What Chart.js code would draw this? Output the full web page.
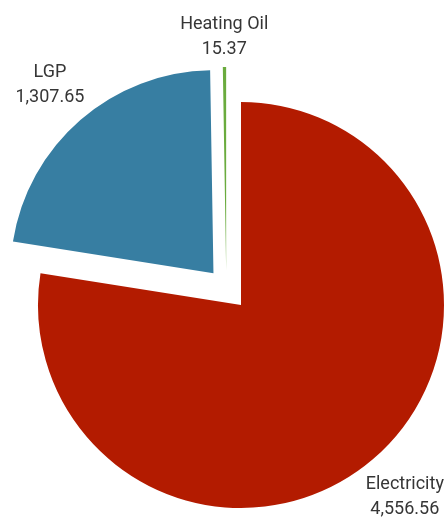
<!DOCTYPE html>
<html>
<head>
<meta charset="utf-8">
<script src="https://cdn.jsdelivr.net/npm/chart.js@4/dist/chart.umd.min.js"></script>
<style>
  html, body { margin: 0; padding: 0; background: #fff; }
  #wrap { width: 446px; height: 522px; position: relative; }
</style>
</head>
<body>
<div id="wrap"><canvas id="energyPie"></canvas></div>
<script>
// data
const categories = ['Electricity', 'LGP', 'Heating Oil'];
const values = [4556.56, 1307.65, 15.37];
const valueLabels = ['4,556.56', '1,307.65', '15.37'];
const colors = ['#b31b00', '#377ea2', '#6aab3e'];

// explode distance in px, and direction (deg from 12 o'clock, null = slice middle)
const explodePx = [0, 42, 38];
const explodeDir = [null, null, -23];

// the built-in offset shrinks thin slices to nothing, so translate the whole wedge instead
const ArcBase = Chart.ArcElement || Chart.elements.ArcElement;
class ExplodedArc extends ArcBase {
    static id = 'explodedArc';
    explodeVector() {
        const i = this.$idx || 0;
        const ang = explodeDir[i] === null
            ? (this.startAngle + this.endAngle) / 2
            : (explodeDir[i] - 90) * Math.PI / 180;
        return { dx: Math.cos(ang) * explodePx[i], dy: Math.sin(ang) * explodePx[i] };
    }
    draw(ctx) {
        const v = this.explodeVector();
        ctx.save();
        ctx.translate(v.dx, v.dy);
        super.draw(ctx);
        ctx.restore();
    }
}
Chart.register(ExplodedArc);
Chart.defaults.datasets.pie.dataElementType = 'explodedArc';

// name + value outside each slice, text box kept a few px off the rim
const outsideLabels = {
    id: 'outsideLabels',
    beforeDatasetsDraw(chart) {
        chart.getDatasetMeta(0).data.forEach((arc, i) => { arc.$idx = i; });
    },
    afterDatasetsDraw(chart) {
        const ctx = chart.ctx;
        const meta = chart.getDatasetMeta(0);
        const lineGap = 25;
        ctx.save();
        ctx.fillStyle = '#363636';
        ctx.font = '18px Roboto';
        ctx.textAlign = 'center';
        ctx.textBaseline = 'middle';
        meta.data.forEach((arc, i) => {
            const p = arc.getProps(['x', 'y', 'startAngle', 'endAngle', 'outerRadius'], true);
            const v = arc.explodeVector();
            const mid = (p.startAngle + p.endAngle) / 2;
            const cx = Math.cos(mid), cy = Math.sin(mid);
            const w = Math.max(ctx.measureText(categories[i]).width, ctx.measureText(valueLabels[i]).width);
            const h = lineGap + 22;
            const dist = p.outerRadius + 6 + Math.abs(cx) * w / 2 + Math.abs(cy) * h / 2;
            const lx = p.x + v.dx + cx * dist;
            const ly = p.y + v.dy + cy * dist;
            ctx.fillText(categories[i], lx, ly - lineGap / 2);
            ctx.fillText(valueLabels[i], lx, ly + lineGap / 2);
        });
        ctx.restore();
    }
};

new Chart(document.getElementById('energyPie'), {
    type: 'pie',
    data: {
        labels: categories,
        datasets: [{
            data: values,
            backgroundColor: colors,
            borderWidth: 0
        }]
    },
    options: {
        responsive: true,
        maintainAspectRatio: false,
        animation: false,
        events: [],
        radius: 203,
        layout: {
            padding: { left: 36, right: 0, top: 88, bottom: 0 }
        },
        plugins: {
            legend: { display: false },
            tooltip: { enabled: false }
        }
    },
    plugins: [outsideLabels]
});
</script>
</body>
</html>
